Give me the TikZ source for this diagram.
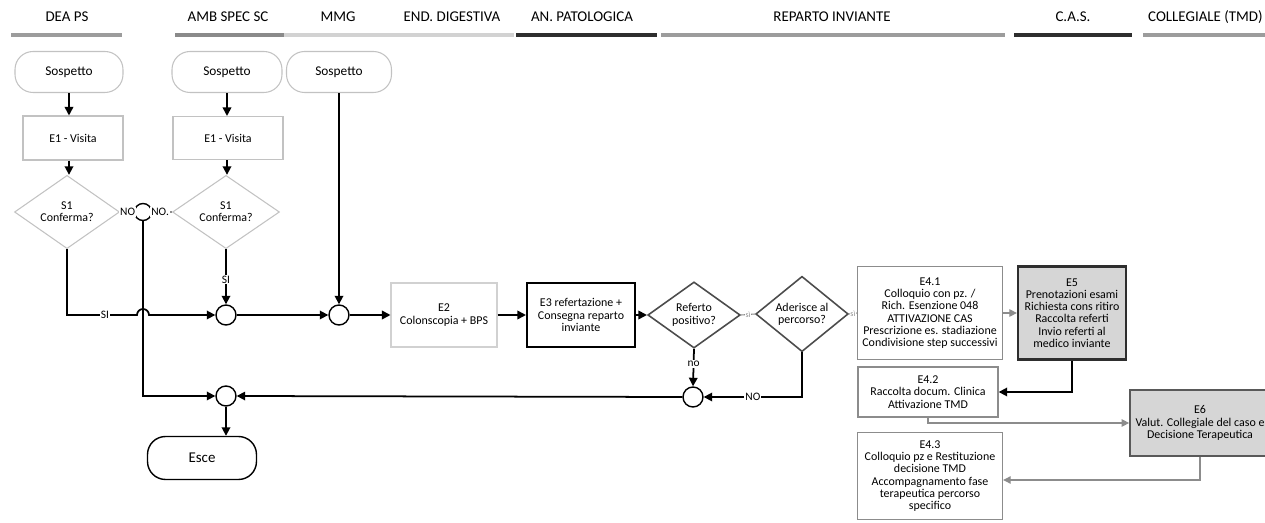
\documentclass[tikz,border=0pt]{standalone}
\usepackage{fontspec}
\setmainfont{Carlito}
\usetikzlibrary{arrows.meta,positioning,shapes.geometric,calc}
\definecolor{lanemid}{HTML}{9C9C9C}
\definecolor{lanedark}{HTML}{8A8A8A}
\definecolor{lanelight}{HTML}{D2D2D2}
\definecolor{laneblack}{HTML}{2E2E2E}
\definecolor{paleline}{HTML}{C2C2C2}
\definecolor{midline}{HTML}{8C8C8C}
\definecolor{boxfill}{HTML}{D6D6D6}
\newcommand{\boxfont}{\fontsize{6.8}{7}\selectfont}

\begin{document}
\begin{tikzpicture}[x=0.02cm,y=-0.02cm,font=\boxfont,
  hdr/.style={font=\fontsize{8.5}{9}\selectfont,inner sep=0pt},
  term/.style={draw=paleline,line width=0.6pt,rounded corners=0.36cm,
               minimum height=0.82cm,font=\fontsize{7.6}{8}\selectfont},
  act/.style={draw=paleline,line width=0.6pt,align=center,inner sep=1pt},
  dec/.style={diamond,draw=paleline,line width=0.6pt,align=center,inner sep=0pt},
  ask/.style={dec,draw=black!70,line width=0.9pt,minimum width=1.85cm,minimum height=1.28cm},
  note/.style={act,draw=midline,line width=0.8pt,minimum width=2.9cm},
  junc/.style={circle,draw,fill=white,line width=0.8pt,inner sep=0pt,minimum size=0.4cm},
  flow/.style={-{Triangle[length=1.7mm,width=1.7mm]},line width=1pt},
  soft/.style={draw=midline,line width=0.6pt},
  softflow/.style={soft,-{Triangle[length=1.5mm,width=1.5mm,fill=midline]}},
  lbl/.style={fill=white,inner sep=0.6pt,font=\fontsize{6.5}{7}\selectfont},
  tiny/.style={fill=white,inner sep=0.3pt,text=midline,font=\fontsize{4.5}{5}\selectfont},
]
\useasboundingbox (0,0) rectangle (1265,523);

% lanes
\node[hdr] (hdea) at (67,17) {DEA PS};
\node[hdr] (hamb) at (228,17) {AMB SPEC SC};
\node[hdr] (hmmg) at (338,17) {MMG};
\node[hdr] (hend) at (452,17) {END. DIGESTIVA};
\node[hdr] (hpat) at (582,17) {AN. PATOLOGICA};
\node[hdr] (hrep) at (832,17) {REPARTO INVIANTE};
\node[hdr] (hcas) at (1073,17) {C.A.S.};
\node[hdr,anchor=east] (hcol) at (1263,17) {COLLEGIALE (TMD)};
\fill[lanemid] (11,33) rectangle (122,37);
\fill[lanedark] (175,33) rectangle (284,37);
\fill[lanelight] (284,33) rectangle (514,37);
\fill[laneblack] (516,33) rectangle (657,37);
\fill[lanemid] (661,33) rectangle (1005,37);
\fill[laneblack] (1014,33) rectangle (1132,37);
\fill[lanemid] (1143,33) rectangle (1265,37);

% entry points
\node[term,minimum width=2.16cm] (sosdea) at (69,72) {Sospetto};
\node[term,minimum width=2.2cm] (sosamb) at (227,72) {Sospetto};
\node[term,minimum width=2.1cm] (sosmmg) at (339,72) {Sospetto};

\node[act,minimum width=2cm,minimum height=0.88cm] (visdea) at (73,138) {E1 - Visita};
\node[act,minimum width=2.2cm,minimum height=0.86cm] (visamb) at (228,138) {E1 - Visita};

\node[dec,minimum width=2.1cm,minimum height=1.26cm] (cfdea) at (67,212) {S1\\Conferma?};
\node[dec,minimum width=2.14cm,minimum height=1.22cm] (cfamb) at (226,212) {S1\\Conferma?};

\node[junc,minimum size=0.34cm] (jno) at (143,212) {};
\node[junc] (jsi) at (226,315) {};
\node[junc] (jmmg) at (339,315) {};
\node[junc] (jout) at (226,396) {};
\node[junc] (jref) at (693,397) {};

\node[term,draw=black,line width=0.8pt,minimum width=2.18cm,minimum height=0.86cm,
      font=\fontsize{8.5}{9}\selectfont] (esce) at (202,458) {Esce};

% main line
\node[act,draw=black!18,minimum width=2.12cm,minimum height=1.28cm] (colon) at (444,315)
  {E2\\Colonscopia + BPS};
\node[act,draw=black,line width=1.2pt,minimum width=2.16cm,minimum height=1.28cm] (referta) at (581,315)
  {E3 refertazione +\\Consegna reparto\\inviante};
\node[ask] (refpos) at (694,315) {Referto\\positivo?};
\node[ask] (aderisce) at (802,314) {Aderisce al\\percorso?};

% reparto / CAS / TMD
\node[note,minimum height=1.86cm] (e41) at (930,313)
  {E4.1\\Colloquio con pz. /\\Rich. Esenzione 048\\ATTIVAZIONE CAS\\Prescrizione es. stadiazione\\Condivisione step successivi};
\node[act,fill=boxfill,draw=laneblack,line width=1.3pt,minimum width=2.16cm,minimum height=1.86cm] (cas) at (1072,313)
  {E5\\Prenotazioni esami\\Richiesta cons ritiro\\Raccolta referti\\Invio referti al\\medico inviante};
\node[note,minimum width=2.8cm,minimum height=1cm] (e42) at (928,392)
  {E4.2\\Raccolta docum. Clinica\\Attivazione TMD};
\node[act,fill=boxfill,draw=black!65,line width=1pt,minimum width=2.8cm,minimum height=1.32cm] (tmd) at (1200,423)
  {E6\\Valut. Collegiale del caso e\\Decisione Terapeutica};
\node[note,minimum height=1.74cm] (e43) at (930,476)
  {E4.3\\Colloquio pz e Restituzione\\decisione TMD\\Accompagnamento fase\\terapeutica percorso\\specifico};

% connectors
\draw[flow] (sosdea.south) -- (sosdea.south |- visdea.north);
\draw[flow] (visdea.south -| sosdea.south) -- (sosdea.south |- cfdea.north);
\draw[flow] (sosamb.south) -- (visamb.north -| sosamb.south);
\draw[flow] (visamb.south -| sosamb.south) -- (sosamb.south |- cfamb.north);

\draw[soft] (cfdea.east) -- node[lbl,pos=0.55]{NO} (jno.west);
\draw[soft] (cfamb.west) -- node[lbl,pos=0.6]{NO.} (jno.east);
\draw[flow] (jno.south) |- (jout.west);

\coordinate (hop) at (137,315);
\draw[flow] (cfdea.south) |- (hop)
  arc[start angle=180,end angle=0,radius=0.12cm] -- (jsi.west);
\node[lbl] (silbl) at (105,315) {SI};
\draw[flow] (cfamb.south) -- node[lbl,pos=0.55]{SI} (jsi.north);
\draw[flow] (jsi.east) -- (jmmg.west);
\draw[flow] (sosmmg.south) -- (jmmg.north);
\draw[flow] (jmmg.east) -- (colon.west);
\draw[flow] (colon.east) -- (referta.west);
\draw[flow] (referta.east) -- (refpos.west);
\draw[soft] (refpos.east) -- node[tiny]{sì} (aderisce.west);
\draw[flow] (refpos.south) -- node[lbl,pos=0.4]{no} (jref.north);
\draw[flow] (aderisce.south) |- node[lbl,pos=0.75]{NO} (jref.east);
\draw[flow] (jref.west) -- (jout.east);
\draw[flow] (jout.south) -- (jout.south |- esce.north);

\draw[soft] (aderisce.east) -- node[tiny]{sì} (e41.west);
\draw[softflow] (e41.east) -- (cas.west);
\draw[flow] (cas.south) |- (e42.east);
\draw[softflow] (e42.south) |- (tmd.west);
\draw[softflow] (tmd.south) |- ($(e43.east)+(0,4)$);
\end{tikzpicture}
\end{document}
